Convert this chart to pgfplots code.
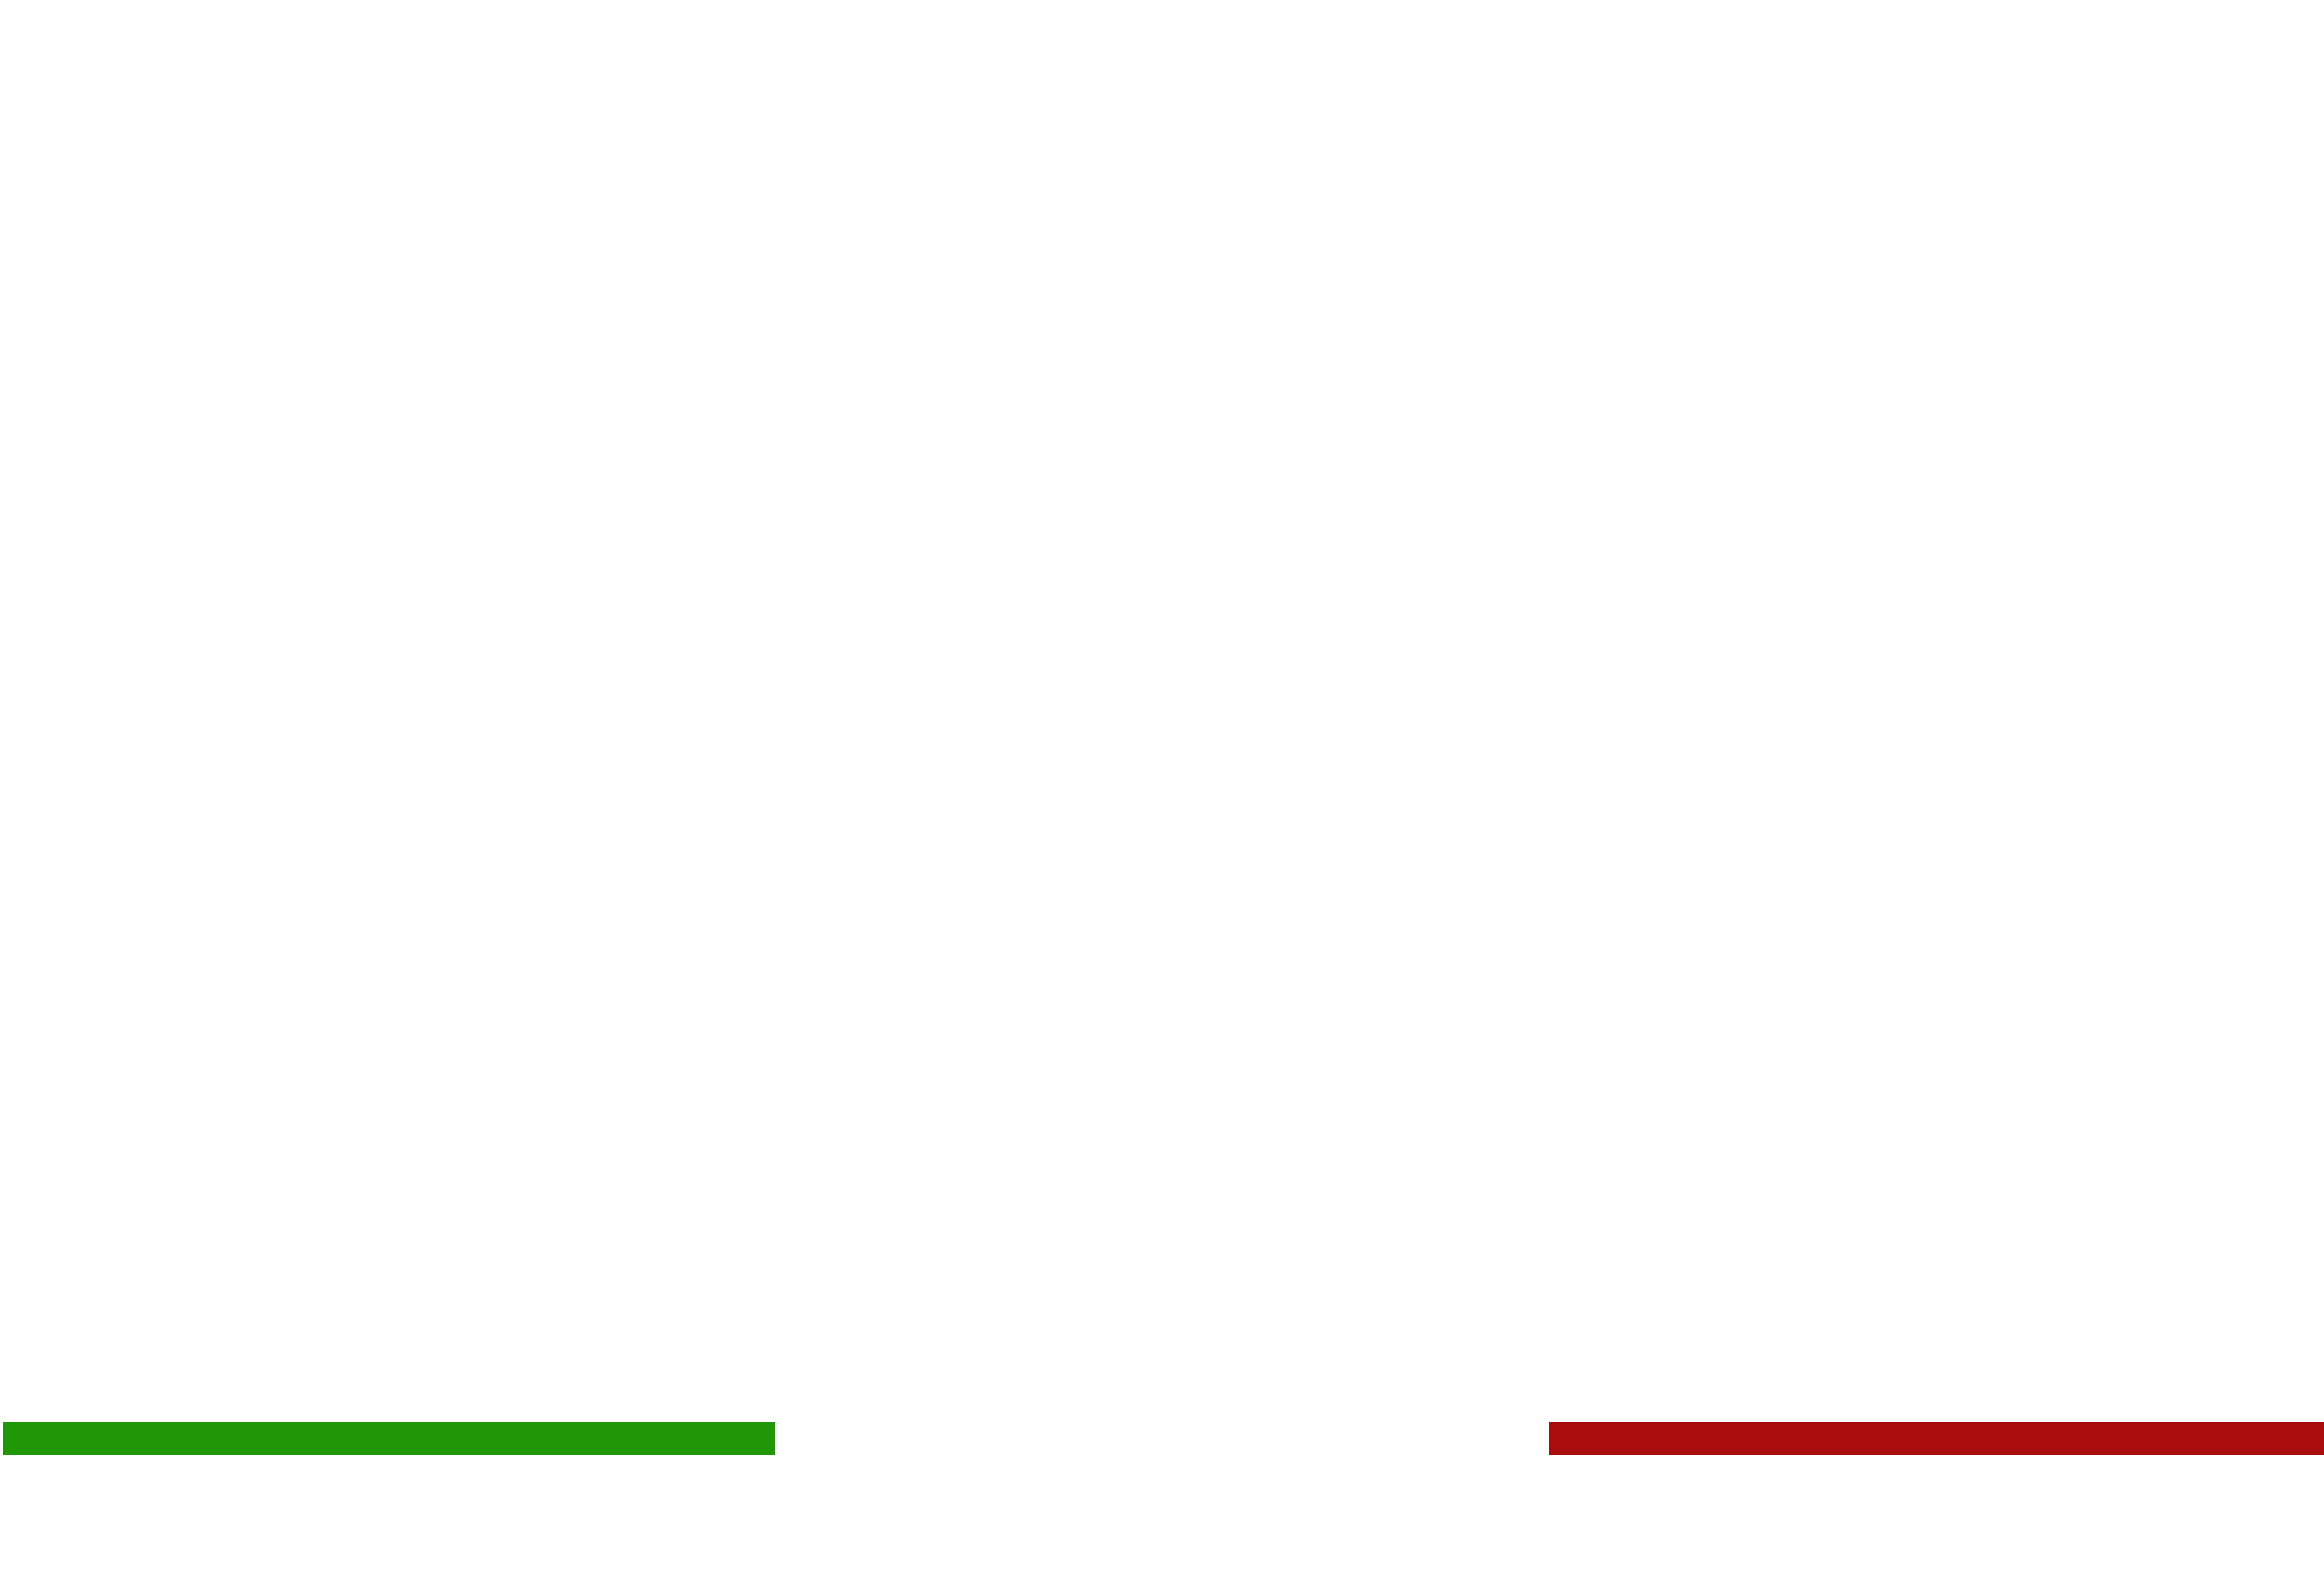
\documentclass[border=0pt]{standalone}
\usepackage{pgfplots}
\pgfplotsset{compat=1.18}
\definecolor{barGreen}{RGB}{31,151,7}
\definecolor{barRed}{RGB}{168,12,12}
\begin{document}
\begin{tikzpicture}
\begin{axis}[scale only axis, width=14.622cm, height=10cm,
xmin=0, xmax=3, ymin=0, ymax=1,
hide axis, clip=false]
\addplot[color=barGreen, line width=6pt, line cap=butt, mark=none] coordinates {
	(0.0035,0.0946)
	(1,0.0946)
};
\addplot[color=barRed, line width=6pt, line cap=butt, mark=none] coordinates {
	(2,0.0946)
	(3,0.0946)
};
\end{axis}
\pgfresetboundingbox
\useasboundingbox (current axis.south west) rectangle (current axis.north east);
\end{tikzpicture}
\end{document}
